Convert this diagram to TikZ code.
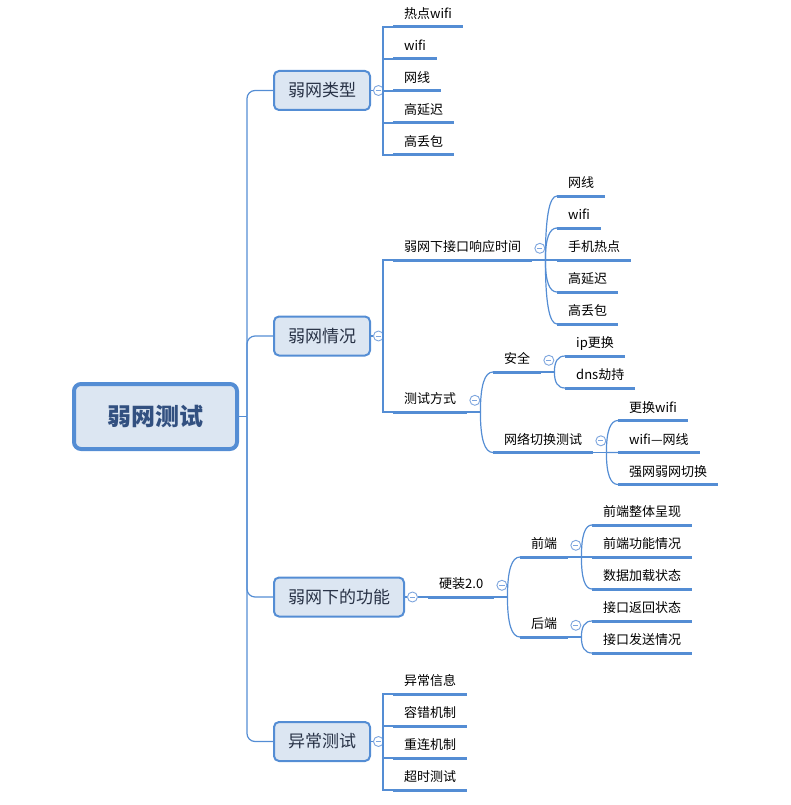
\documentclass[tikz,border=0pt]{standalone}
\usepackage{fontspec}
\setmainfont{Noto Sans CJK SC}
\usetikzlibrary{calc, positioning}

\definecolor{lineblue}{RGB}{84,141,212}
\definecolor{boxfill}{RGB}{220,230,242}
\definecolor{foldblue}{RGB}{125,165,222}
\definecolor{roottext}{RGB}{50,80,128}
\definecolor{topictext}{RGB}{40,50,70}

\begin{document}
\begin{tikzpicture}[x=1pt,y=-1pt,
  conn/.style={lineblue,line width=1.2pt},
  uline/.style={lineblue,line width=3pt},
  rootbox/.style={draw=lineblue,line width=4pt,fill=boxfill,rounded corners=7pt,
    minimum width=163pt,minimum height=65pt,text=roottext,
    font=\fontsize{24}{26}\selectfont\bfseries},
  topic/.style={draw=lineblue,line width=2pt,fill=boxfill,rounded corners=5pt,
    anchor=west,minimum height=39pt,inner xsep=14pt,text=topictext,
    font=\fontsize{17}{20}\selectfont},
  leaf/.style={anchor=south west,inner xsep=11pt,inner ysep=5pt,
    text height=10pt,text depth=3pt,font=\fontsize{13}{15}\selectfont},
  fold/.style={circle,draw=foldblue,fill=white,line width=0.9pt,
    minimum size=10pt,inner sep=0pt,
    path picture={\draw[foldblue,line width=0.9pt]
      ([xshift=-2.6pt]path picture bounding box.center) --
      ([xshift=2.6pt]path picture bounding box.center);}}]
\useasboundingbox (0,0) rectangle (791,805);

\node[rootbox] (root) at (155.5,416.5) {弱网测试};

\node[topic] (t1) at (273,90.5) {弱网类型};
\node[topic] (t2) at (273,336) {弱网情况};
\node[topic] (t3) at (273,597) {弱网下的功能};
\node[topic] (t4) at (273,741.5) {异常测试};

\node[leaf] (type1) at (393,27) {热点wifi};
\node[leaf] (type2) at (393,59) {wifi};
\node[leaf] (type3) at (393,91) {网线};
\node[leaf] (type4) at (393,123) {高延迟};
\node[leaf] (type5) at (393,155) {高丢包};

\node[leaf] (resp) at (393,260) {弱网下接口响应时间};
\node[leaf] (way) at (393,412) {测试方式};
\node[leaf] (resp1) at (557,196) {网线};
\node[leaf] (resp2) at (557,228) {wifi};
\node[leaf] (resp3) at (557,260) {手机热点};
\node[leaf] (resp4) at (557,292) {高延迟};
\node[leaf] (resp5) at (557,324) {高丢包};
\node[leaf] (safe) at (493,372) {安全};
\node[leaf] (swit) at (493,452.5) {网络切换测试};
\node[leaf] (safe1) at (565,356) {ip更换};
\node[leaf] (safe2) at (565,388) {dns劫持};
\node[leaf] (swit1) at (618,420.5) {更换wifi};
\node[leaf] (swit2) at (618,452.5) {wifi—网线};
\node[leaf] (swit3) at (618,484.5) {强网弱网切换};

\node[leaf] (hw) at (428,597) {硬装2.0};
\node[leaf] (front) at (520,557) {前端};
\node[leaf] (back) at (520,637) {后端};
\node[leaf] (front1) at (592,525) {前端整体呈现};
\node[leaf] (front2) at (592,557) {前端功能情况};
\node[leaf] (front3) at (592,589) {数据加载状态};
\node[leaf] (back1) at (592,621) {接口返回状态};
\node[leaf] (back2) at (592,653) {接口发送情况};

\node[leaf] (err1) at (393,694) {异常信息};
\node[leaf] (err2) at (393,726) {容错机制};
\node[leaf] (err3) at (393,758) {重连机制};
\node[leaf] (err4) at (393,790) {超时测试};

\foreach \n in {type1,type2,type3,type4,type5,resp,way,resp1,resp2,resp3,resp4,resp5,
  safe,swit,safe1,safe2,swit1,swit2,swit3,hw,front,back,front1,front2,front3,
  back1,back2,err1,err2,err3,err4}{
  \draw[uline] (\n.south west) -- (\n.south east);
}

\coordinate (trunk) at (247,416.5);
\draw[conn] (root) -- (trunk);
\foreach \t in {t1,t2,t3,t4}{
  \draw[conn,rounded corners=8pt] (trunk) |- (\t.west);
}

\node[fold,right=2pt of t1] (f1) {};
\node[fold,right=2pt of t2] (f2) {};
\node[fold,right=2pt of t3] (f3) {};
\node[fold,right=2pt of t4] (f4) {};
\coordinate (b1) at (383,90.5);
\coordinate (b2) at (383,336);
\coordinate (b4) at (383,741.5);
\draw[conn] (t1) -- (f1) -- (b1);
\draw[conn] (t2) -- (f2) -- (b2);
\draw[conn] (t4) -- (f4) -- (b4);
\draw[conn] (t3) -- (f3) -- (hw.south west);
\foreach \n in {type1,type2,type3,type4,type5}{
  \draw[conn] (b1) |- (\n.south west);
}
\foreach \n in {resp,way}{
  \draw[conn] (b2) |- (\n.south west);
}
\foreach \n in {err1,err2,err3,err4}{
  \draw[conn] (b4) |- (\n.south west);
}

\foreach \p/\j/\kids in {resp/jr/{resp1,resp2,resp3,resp4,resp5},
  way/jw/{safe,swit}, safe/js/{safe1,safe2}, swit/jx/{swit1,swit2,swit3},
  hw/jh/{front,back}, front/jf/{front1,front2,front3}, back/jb/{back1,back2}}{
  \node[fold,right=2pt of \p] {};
  \coordinate (\j) at ($(\p.south east)+(13,0)$);
  \draw[conn] (\p.south east) -- (\j);
  \foreach \n in \kids{
    \draw[conn] (\j) .. controls ($(\j)!0.667!(\j |- \n.south west)$)
      and ($(\n.south west)!0.667!(\j |- \n.south west)$) .. (\n.south west);
  }
}
\end{tikzpicture}
\end{document}
